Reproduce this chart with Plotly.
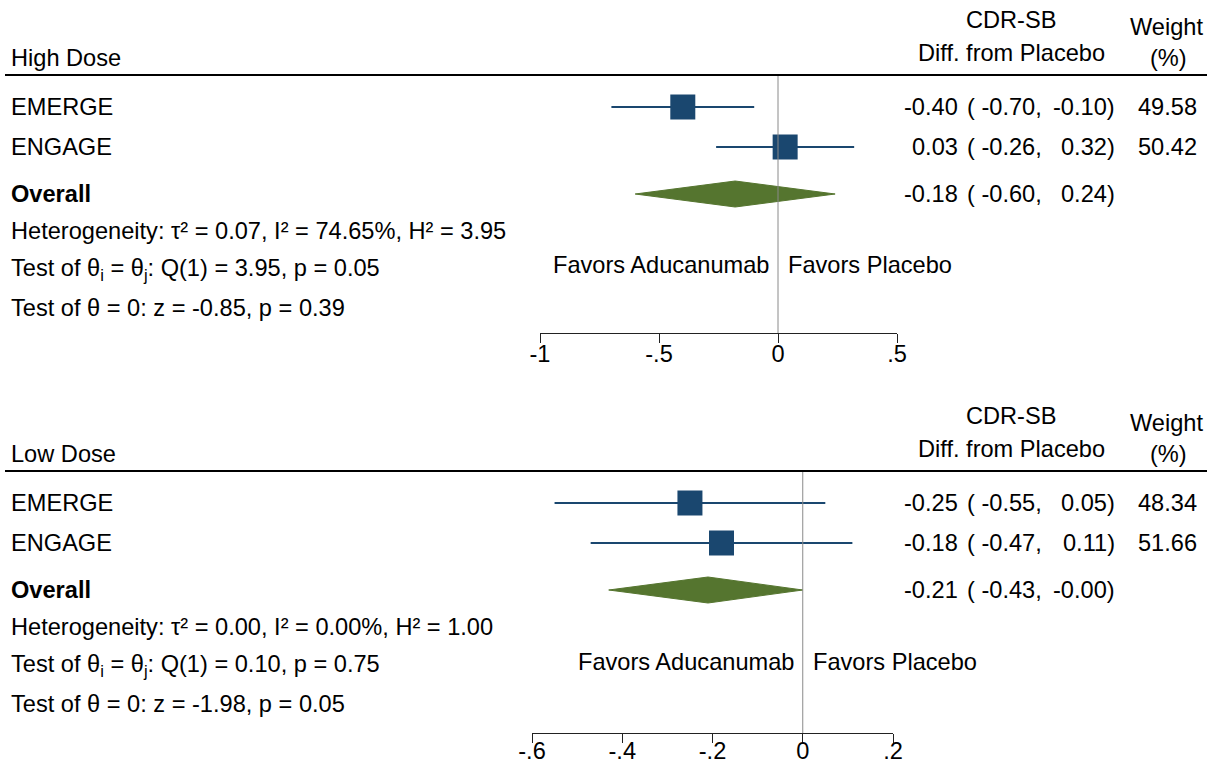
import plotly.graph_objects as go

W, H = 1207, 763

# ---------------- data ----------------
studies = ["EMERGE", "ENGAGE"]
high_est = [-0.40, 0.03]
high_lo = [-0.70, -0.26]
high_hi = [-0.10, 0.32]
high_wt = [49.58, 50.42]
high_overall = [-0.18, -0.60, 0.24]  # est, lo, hi
high_het = "Heterogeneity: τ² = 0.07, I² = 74.65%, H² = 3.95"
high_q = "Test of θ<sub>i</sub> = θ<sub>j</sub>: Q(1) = 3.95, p = 0.05"
high_z = "Test of θ = 0: z = -0.85, p = 0.39"
high_ticks = [-1, -0.5, 0, 0.5]
high_ticktext = ["-1", "-.5", "0", ".5"]

low_est = [-0.25, -0.18]
low_lo = [-0.55, -0.47]
low_hi = [0.05, 0.11]
low_wt = [48.34, 51.66]
low_overall = [-0.21, -0.43, -0.00]
low_het = "Heterogeneity: τ² = 0.00, I² = 0.00%, H² = 1.00"
low_q = "Test of θ<sub>i</sub> = θ<sub>j</sub>: Q(1) = 0.10, p = 0.75"
low_z = "Test of θ = 0: z = -1.98, p = 0.05"
low_ticks = [-0.6, -0.4, -0.2, 0, 0.2]
low_ticktext = ["-.6", "-.4", "-.2", "0", ".2"]

# ---------------- style ----------------
FONT = "Liberation Sans, Arial, sans-serif"
FS = 23.6
NAVY = "#1a476f"
GREEN = "#55752f"
BLACK = "#000000"

fig = go.Figure()
annotations = []
shapes = []


def px(x):
    return x / W


def txt(x, y, s, anchor="left", bold=False, size=FS):
    if bold:
        s = "<b>" + s + "</b>"
    annotations.append(dict(x=px(x), y=y, xref="paper", yref="y", text=s,
                            showarrow=False, xanchor=anchor, yanchor="middle",
                            font=dict(family=FONT, size=size, color=BLACK)))


def fmt(v):
    s = f"{v:.2f}"
    if s == "0.00" and str(v).startswith("-"):
        s = "-0.00"
    return s


def panel(xa, title, est, lo, hi, wt, overall, het, q, z, tickv, tickt,
          dom, rng, ypos, off, standoff):
    # layout rows (pixel rows, layout only)
    y_head = 58 + off
    y_rule = 75 + off
    rows = [107 + off, 147 + off]
    y_ov = 194 + off
    y_het = 231 + off
    y_q = 270 + off
    y_z = 308 + off
    y_fav = 265 + off

    # header texts
    txt(1011, y_head - 38, "CDR-SB", anchor="center")
    txt(1011, y_head - 5, "Diff. from Placebo", anchor="center")
    txt(1205, y_head - 31, "Weight", anchor="right")
    txt(1168, y_head, "(%)", anchor="center")
    txt(9, y_head, title)
    shapes.append(dict(type="line", xref="paper", yref="y", x0=px(5), x1=1,
                       y0=y_rule, y1=y_rule, line=dict(color=BLACK, width=2)))

    # reference line at 0
    shapes.append(dict(type="line", xref=xa, yref="y", x0=0, x1=0,
                       y0=y_rule + 1, y1=ypos, line=dict(color="#8a8a8a", width=1)))

    # studies
    for i, name in enumerate(studies):
        y = rows[i]
        txt(9, y, name)
        fig.add_trace(go.Scatter(x=[lo[i], hi[i]], y=[y, y], xaxis=xa, yaxis="y",
                                 mode="lines", line=dict(color=NAVY, width=1.8),
                                 showlegend=False, hoverinfo="skip"))
        fig.add_trace(go.Scatter(x=[est[i]], y=[y], xaxis=xa, yaxis="y",
                                 mode="markers",
                                 marker=dict(symbol="square", size=25, color=NAVY,
                                             line=dict(width=0)),
                                 showlegend=False))
        txt(960, y, fmt(est[i]), anchor="right")
        txt(965, y, "( " + fmt(lo[i]) + ",", anchor="left")
        txt(1117, y, fmt(hi[i]) + ")", anchor="right")
        txt(1199, y, f"{wt[i]:.2f}", anchor="right")

    # overall diamond
    e, l, h = overall
    hh = 13
    txt(9, y_ov, "Overall", bold=True)
    fig.add_trace(go.Scatter(x=[l, e, h, e, l], y=[y_ov, y_ov - hh, y_ov, y_ov + hh, y_ov],
                             xaxis=xa, yaxis="y", mode="lines", fill="toself",
                             fillcolor=GREEN, line=dict(color=GREEN, width=1),
                             showlegend=False, hoverinfo="skip"))
    txt(960, y_ov, fmt(e), anchor="right")
    txt(965, y_ov, "( " + fmt(l) + ",", anchor="left")
    txt(1117, y_ov, fmt(h) + ")", anchor="right")

    txt(9, y_het, het)
    txt(9, y_q, q)
    txt(9, y_z, z)

    return dict(domain=dom, range=rng, anchor="free", position=1 - ypos / H,
                side="bottom", tickmode="array", tickvals=tickv, ticktext=tickt,
                ticks="outside", ticklen=9, tickwidth=1.3, tickcolor="#222222",
                ticklabelstandoff=standoff,
                showline=True, linecolor="#222222", linewidth=1.3,
                showgrid=False, zeroline=False, automargin=False, fixedrange=True,
                tickfont=dict(family=FONT, size=FS, color=BLACK)), y_fav


ax1, yf1 = panel("x", "High Dose", high_est, high_lo, high_hi, high_wt, high_overall,
                 high_het, high_q, high_z, high_ticks, high_ticktext,
                 [540 / W, 897 / W], [-1, 0.5], 333, 0, -9)
ax2, yf2 = panel("x2", "Low Dose", low_est, low_lo, low_hi, low_wt, low_overall,
                 low_het, low_q, low_z, low_ticks, low_ticktext,
                 [532 / W, 893 / W], [-0.6, 0.2], 733, 396, -12)

# favors labels
txt(771, yf1, "Favors Aducanumab", anchor="right")
txt(786, yf1, "Favors Placebo", anchor="left")
txt(796, yf2 + 1, "Favors Aducanumab", anchor="right")
txt(811, yf2 + 1, "Favors Placebo", anchor="left")

fig.update_layout(
    width=W, height=H,
    margin=dict(l=0, r=0, t=0, b=0, autoexpand=False),
    paper_bgcolor="white", plot_bgcolor="rgba(0,0,0,0)",
    xaxis=ax1, xaxis2=ax2,
    yaxis=dict(domain=[0, 1], range=[H, 0], visible=False, fixedrange=True,
               automargin=False, anchor="free", position=0),
    annotations=annotations, shapes=shapes,
    showlegend=False,
)

fig.write_html("out.html", config={"displayModeBar": False},
               post_script="document.body.style.margin='0';document.body.style.overflow='hidden';")
